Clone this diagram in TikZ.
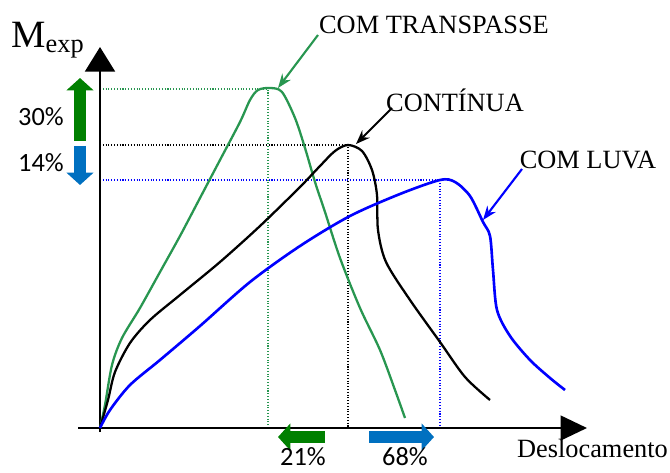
\documentclass[tikz,border=0pt]{standalone}
\usepackage{fontspec}
\setmainfont{Liberation Serif}
\newfontfamily\pctfont{Carlito}
\usetikzlibrary{positioning, arrows.meta}

\definecolor{trgreen}{RGB}{40,150,80}
\definecolor{darkgreen}{RGB}{0,128,0}
\definecolor{midblue}{RGB}{0,112,192}
\definecolor{luvablue}{RGB}{0,0,255}

\tikzset{
    curvelabel/.style={font=\fontsize{15}{17}\selectfont, inner sep=1pt},
    pctlabel/.style={font=\pctfont\fontsize{15}{17}\selectfont, inner sep=1pt},
    guide/.style={densely dotted, line width=0.6pt},
    fatarrow/.style={line width=6.5pt, -{Triangle[width=15pt, length=7pt]}},
    pointer/.style={line width=1.2pt, -{Stealth[length=8pt, width=6pt]}}
}

\begin{document}
\begin{tikzpicture}[x=0.02cm, y=-0.02cm]
        \useasboundingbox (0,0) rectangle (670,473);

        % peaks of the three curves
        \coordinate (o) at (100,428);
        \coordinate (pg) at (268,89);
        \coordinate (pk) at (348,145);
        \coordinate (pb) at (440,180);

        % guide lines
        \draw[guide, trgreen] (o |- pg) -- (pg) -- (pg |- o);
        \draw[guide, black] (o |- pk) -- (pk) -- (pk |- o);
        \draw[guide, luvablue] (o |- pb) -- (pb) -- (pb |- o);

        % axes
        \coordinate (ytip) at (100,47);
        \coordinate (xtip) at (587,428);
        \draw[line width=1.4pt, -{Triangle[width=17pt, length=14pt]}] (100,432) -- (ytip);
        \draw[line width=1.4pt, -{Triangle[width=14pt, length=15pt]}] (78,428) -- (xtip);
        \node (mexp) at (48,40) {\fontsize{22}{26}\selectfont M\textsubscript{\fontsize{15}{18}\selectfont exp}};
        \node[curvelabel, anchor=north west] (desl) at (515,437) {Deslocamento};

        % curves
        \draw[trgreen, line width=1.3pt] plot[smooth, tension=0.5] coordinates {
            (100,428) (105,405) (112,365) (122,338) (140,308) (160,272) (180,236)
            (200,198) (220,160) (240,122) (250,100) (258,90) (270,88) (282,92)
            (295,118) (305,148) (315,182) (325,212) (340,258) (360,308)
            (380,350) (395,390) (405,418)};
        \draw[black, line width=1.3pt] plot[smooth, tension=0.5] coordinates {
            (100,428) (108,400) (115,372) (130,343) (150,320) (180,295) (220,262)
            (260,226) (300,187) (320,166) (335,151) (348,145) (362,151) (372,170)
            (377,195) (378,230) (386,262) (410,300) (440,342) (465,377) (490,400)};
        \draw[luvablue, line width=1.5pt] plot[smooth, tension=0.5] coordinates {
            (100,428) (110,410) (130,385) (160,360) (200,326) (250,282) (300,246)
            (350,216) (400,194) (440,180) (455,182) (470,196) (483,222) (490,236)
            (493,270) (497,310) (510,336) (530,360) (550,378) (565,390)};

        % curve names
        \node[curvelabel] (transp) at (434,25) {COM TRANSPASSE};
        \node[curvelabel] (cont) at (455,100) {CONTÍNUA};
        \node[curvelabel] (luva) at (588,160) {COM LUVA};
        \draw[pointer, trgreen] (318,35) -- (278,88);
        \draw[pointer, black] (392,108) -- (356,144);
        \draw[pointer, luvablue] (522,169) -- (483,220);

        % variations
        \draw[fatarrow, darkgreen] (80,141) -- (80,78);
        \draw[fatarrow, midblue] (80,146) -- (80,185);
        \node[pctlabel] (p30) at (41,117) {30\%};
        \node[pctlabel] (p14) at (41,163) {14\%};
        \draw[fatarrow, darkgreen] (325,437) -- (278,437);
        \draw[fatarrow, midblue] (369,437) -- (434,437);
        \node[pctlabel] (p21) at (303,457) {21\%};
        \node[pctlabel] (p68) at (405,457) {68\%};
    \end{tikzpicture}
\end{document}
